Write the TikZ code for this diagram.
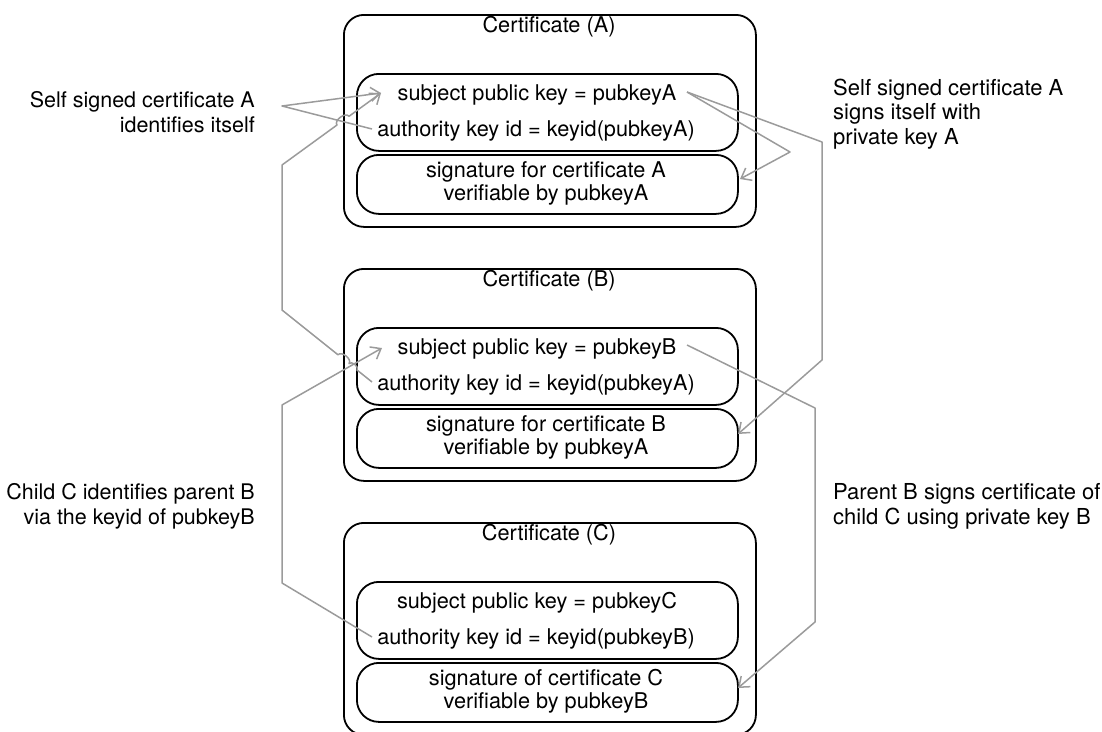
\documentclass[tikz,border=0pt]{standalone}
\usepackage{fontspec}
\setmainfont{TeX Gyre Heros}
\usetikzlibrary{arrows.meta}
\definecolor{linkgray}{RGB}{155,155,155}
\lineskiplimit=-20pt
\begin{document}
\begin{tikzpicture}[x=1pt,y=-1pt,
  font=\fontsize{21.7}{24}\selectfont,
  cert/.style={draw=black, line width=1.8pt, rounded corners=20pt, minimum width=412pt, minimum height=212pt, inner sep=0pt, anchor=north west},
  field/.style={draw=black, line width=1.8pt, rounded corners=22pt, minimum width=381pt, inner sep=0pt, anchor=north west},
  txt/.style={inner sep=0pt, anchor=base},
  sigtxt/.style={inner sep=0pt, anchor=base, align=center, font=\fontsize{21.7}{23}\selectfont},
  lbl/.style={inner sep=0pt, align=left, anchor=base west, font=\fontsize{22}{24.5}\selectfont},
  lblr/.style={inner sep=0pt, align=right, anchor=base east, font=\fontsize{21.5}{24.5}\selectfont},
  link/.style={draw=linkgray, line width=1.5pt, line join=round},
  arr/.style={link, -{Straight Barb[length=9pt,width=14pt]}},
]
\useasboundingbox (0,0) rectangle (1102,731);

% Certificate A
\node[cert] (certA) at (343,14) {};
\node[field, minimum height=77pt] (keysA) at (356,73) {};
\node[field, minimum height=59pt] (sigA) at (356,154) {};
\node[txt] (titleA) at (549,32) {Certificate (A)};
\node[txt] (subA) at (537,100) {subject public key = pubkeyA};
\node[txt] (authA) at (536,136) {authority key id = keyid(pubkeyA)};
\node[sigtxt] (sigtA) at (546,200) {signature for certificate A\\verifiable by pubkeyA};

% Certificate B
\node[cert] (certB) at (343,268) {};
\node[field, minimum height=77pt] (keysB) at (356,327) {};
\node[field, minimum height=59pt] (sigB) at (356,408) {};
\node[txt] (titleB) at (549,286) {Certificate (B)};
\node[txt] (subB) at (537,354) {subject public key = pubkeyB};
\node[txt] (authB) at (536,390) {authority key id = keyid(pubkeyA)};
\node[sigtxt] (sigtB) at (546,454) {signature for certificate B\\verifiable by pubkeyA};

% Certificate C
\node[cert] (certC) at (343,522) {};
\node[field, minimum height=77pt] (keysC) at (356,581) {};
\node[field, minimum height=59pt] (sigC) at (356,662) {};
\node[txt] (titleC) at (549,540) {Certificate (C)};
\node[txt] (subC) at (537,608) {subject public key = pubkeyC};
\node[txt] (authC) at (536,644) {authority key id = keyid(pubkeyB)};
\node[sigtxt] (sigtC) at (546,708) {signature of certificate C\\verifiable by pubkeyB};

% Labels
\node[lblr] (lblSelfId) at (255,132) {Self signed certificate A\\identifies itself};
\node[lbl] (lblSelfSign) at (833,144) {Self signed certificate A\\signs itself with\\private key A};
\node[lblr] (lblChild) at (255,524) {Child C identifies parent B\\via the keyid of pubkeyB};
\node[lbl] (lblParent) at (833,524) {Parent B signs certificate of\\child C using private key B};

% Connector points
\coordinate (aAuthEnd) at (372,129);
\coordinate (aSubTip) at (381,93);
\coordinate (aSubEnd) at (687,92);
\coordinate (aSigTip) at (740,179);
\coordinate (bAuthEnd) at (372,382);
\coordinate (bSubTip) at (382,348);
\coordinate (bSubEnd) at (687,345);
\coordinate (bSigTip) at (738,434);
\coordinate (cAuthEnd) at (372,637);
\coordinate (cSigTip) at (738,688);

% A identifies itself
\coordinate (bendSelfId) at (282,106);
\draw[arr] (aAuthEnd) -- (bendSelfId) -- (aSubTip);

% A signs itself
\coordinate (bendSelfSign) at (790,152);
\draw[arr] (aSubEnd) -- (bendSelfSign) -- (aSigTip);

% B authority -> A subject
\coordinate (ba1) at (282,310);
\coordinate (ba2) at (282,165);
\draw[arr] (bAuthEnd) -- (357,370) to[bend right=90] (349,363.6) to[bend right=90] (338,354.8) -- (ba1) -- (ba2)
  -- (337,125) to[bend left=90] (349,116.3) -- (aSubTip);

% C authority -> B subject
\coordinate (cb1) at (282,583);
\coordinate (cb2) at (282,405);
\draw[arr] (cAuthEnd) -- (cb1) -- (cb2) -- (bSubTip);

% A subject -> B signature
\coordinate (ab1) at (822,142);
\coordinate (ab2) at (822,360);
\draw[arr] (aSubEnd) -- (ab1) -- (ab2) -- (bSigTip);

% B subject -> C signature
\coordinate (bc1) at (815,408);
\coordinate (bc2) at (815,622);
\draw[arr] (bSubEnd) -- (bc1) -- (bc2) -- (cSigTip);
\end{tikzpicture}
\end{document}
